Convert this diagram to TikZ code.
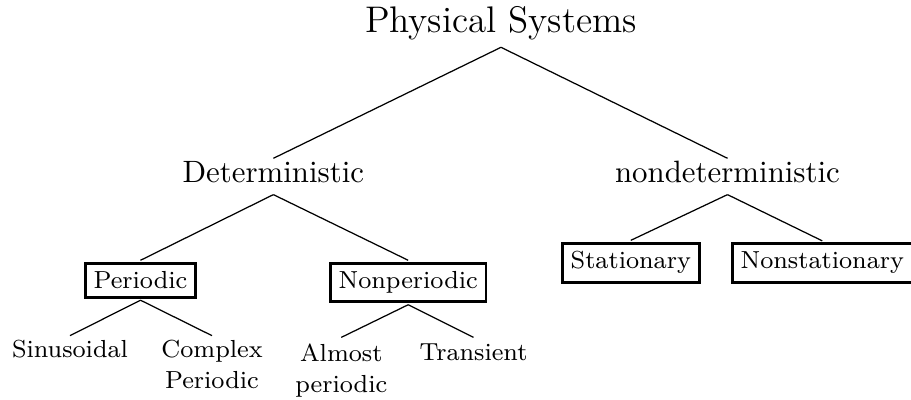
\documentclass[tikz,border=0pt]{standalone}
\begin{document}
\begin{tikzpicture}[x=0.3241pt,y=-0.3241pt,
  edge/.style={line width=0.4pt},
  rootlab/.style={inner sep=0pt, anchor=base, font=\fontsize{12}{14.5}\selectfont, text depth=4.44pt},
  midlab/.style={inner sep=0pt, anchor=base, font=\fontsize{10}{12}\selectfont, text height=7.8pt, text depth=3.57pt},
  boxlab/.style={draw, line width=0.9pt, inner sep=2.7pt, outer sep=0.95pt, anchor=base, font=\fontsize{8}{10}\selectfont},
  leaf/.style={inner sep=0pt, anchor=base, font=\fontsize{8}{10}\selectfont}
]
\useasboundingbox (0,0) rectangle (911,400);

\node[rootlab] (root) at (501,33) {Physical Systems};

\node[midlab] (det) at (273.4,183) {Deterministic};
\node[midlab] (nondet) at (727.5,183) {nondeterministic};

\node[boxlab] (per) at (140.5,288.7) {Periodic};
\node[boxlab] (nonper) at (408.2,288.7) {Nonperiodic};
\node[boxlab] (stat) at (630.8,269) {Stationary};
\node[boxlab] (nonstat) at (822.3,269) {Nonstationary};

\node[leaf, text height=6.94pt] (sin) at (70,357.7) {Sinusoidal};
\node[leaf, text height=6.94pt] (cplx) at (212,357.7) {\begin{tabular}[t]{@{}c@{}}Complex\\Periodic\end{tabular}};
\node[leaf, text height=7.55pt] (alm) at (341.3,361.3) {\begin{tabular}[t]{@{}c@{}}Almost\\periodic\end{tabular}};
\node[leaf, text height=7.23pt] (trans) at (473.5,360.3) {Transient};

\draw[edge] (root.south) -- (det.north);
\draw[edge] (root.south) -- (nondet.north);
\draw[edge] (det.south) -- (per.north);
\draw[edge] (det.south) -- (nonper.north);
\draw[edge] (nondet.south) -- (stat.north);
\draw[edge] (nondet.south) -- (nonstat.north);
\draw[edge] (per.south) -- (sin.north);
\draw[edge] (per.south) -- (cplx.north);
\draw[edge] (nonper.south) -- (alm.north);
\draw[edge] (nonper.south) -- (trans.north);
\end{tikzpicture}
\end{document}
